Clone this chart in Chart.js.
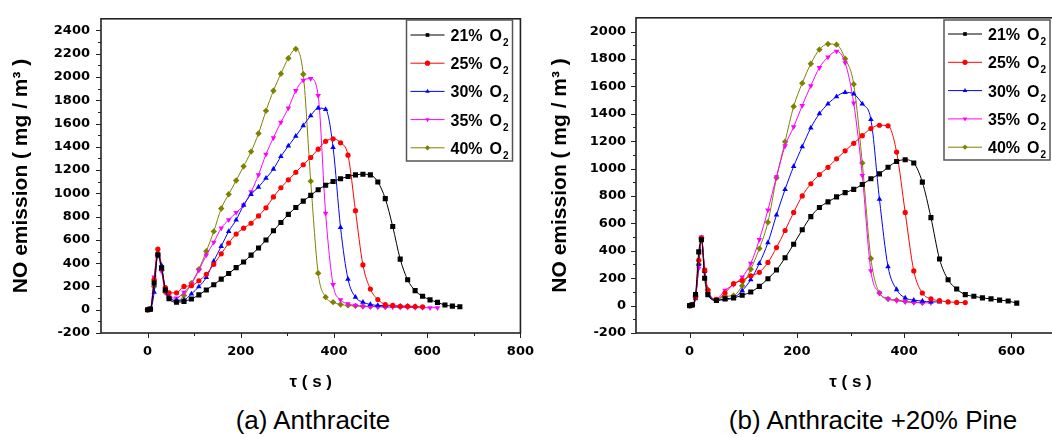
<!DOCTYPE html>
<html>
<head>
<meta charset="utf-8">
<script src="https://cdn.jsdelivr.net/npm/chart.js@4.4.0/dist/chart.umd.min.js"></script>
<style>
  html, body { margin: 0; padding: 0; background: #fff; width: 1052px; height: 437px; overflow: hidden; }
  .panel { position: absolute; top: 0; }
  .cap { position: absolute; top: 405px; font: 26px "Liberation Sans", Arial, sans-serif; color: #000;
         white-space: nowrap; transform: translateX(-50%); line-height: 30px; }
</style>
</head>
<body>
<canvas id="chartA" class="panel" style="left:0px" width="545" height="400"></canvas>
<canvas id="chartB" class="panel" style="left:540px" width="540" height="400"></canvas>
<div class="cap" style="left:313px">(a) Anthracite</div>
<div class="cap" style="left:873px">(b) Anthracite +20% Pine</div>
<script>
// ---- data ----
const o2Levels = ["21%", "25%", "30%", "35%", "40%"];

// tick labels
const xTicksA = [0, 200, 400, 600, 800];
const yTicksA = [-200, 0, 200, 400, 600, 800, 1000, 1200, 1400, 1600, 1800, 2000, 2200, 2400];
const xTicksB = [0, 200, 400, 600];
const yTicksB = [-200, 0, 200, 400, 600, 800, 1000, 1200, 1400, 1600, 1800, 2000];

// (a) Anthracite, time in s, NO in mg/m3
const timeA = [0, 6, 14, 22, 30, 38, 46, 62, 78, 94, 110, 126, 142, 158, 174, 190, 206, 222, 238, 254,
  270, 286, 302, 318, 334, 350, 366, 382, 398, 414, 430, 446, 462, 478, 494, 510, 526, 542, 558, 574,
  590, 606, 622, 638, 654, 670];
const a21 = [0, 5, 230, 470, 360, 170, 95, 65, 72, 92, 128, 170, 215, 263, 311, 362, 410, 469, 531, 599,
  678, 749, 819, 879, 933, 983, 1031, 1070, 1102, 1125, 1145, 1159, 1164, 1159, 1097, 955, 715, 435, 257, 164,
  116, 85, 63, 40, 31, 26];
const a25 = [0, 5, 260, 520, 360, 190, 145, 145, 200, 206, 249, 305, 390, 480, 573, 650, 701, 743, 806, 876,
  969, 1048, 1116, 1181, 1246, 1308, 1380, 1447, 1469, 1435, 1328, 851, 385, 178, 88, 45, 37, 30, 30, 27,
  25, null, null, null, null, null];
const a30 = [0, 3, 150, 490, 380, 180, 110, 80, 85, 136, 198, 277, 418, 545, 673, 772, 899, 992, 1054, 1130,
  1209, 1317, 1407, 1492, 1582, 1667, 1733, 1722, 1395, 707, 263, 108, 65, 45, 37, 35, 33, 30, 30, 28,
  null, null, null, null, null, null];
const a35 = [0, 5, 280, 480, 330, 150, 108, 100, 150, 221, 339, 469, 579, 701, 772, 834, 899, 1012, 1159, 1336,
  1478, 1611, 1732, 1882, 1972, 1986, 1840, 828, 215, 85, 51, 37, 30, 27, 25, 23, 22, 20, 20, 18,
  18, 17, 17, null, null, null];
const a40 = [0, 5, 200, 470, 340, 150, 108, 72, 122, 229, 348, 503, 673, 870, 992, 1110, 1232, 1359, 1514, 1709,
  1882, 2028, 2161, 2240, 2023, 1105, 314, 108, 65, 45, 37, 33, 30, 28, 27, 26, null, null, null, null,
  null, null, null, null, null, null];

// (b) Anthracite + 20% pine
const timeB = [0, 5, 11, 17, 22, 28, 34, 50, 66, 82, 98, 114, 130, 146, 162, 178, 194, 210, 226, 242,
  258, 274, 290, 306, 322, 338, 354, 370, 386, 402, 418, 434, 450, 466, 482, 498, 514, 530, 546, 562,
  578, 594, 610];
const b21 = [0, 5, 80, 392, 480, 200, 80, 37, 49, 56, 75, 99, 140, 196, 260, 349, 448, 553, 649, 716,
  757, 793, 824, 848, 884, 925, 961, 1009, 1052, 1064, 1040, 901, 642, 340, 189, 121, 80, 68, 56, 49,
  40, 33, 18];
const b25 = [0, 5, 60, 330, 490, 260, 110, 45, 92, 160, 184, 217, 243, 315, 423, 548, 680, 800, 889, 956,
  1009, 1071, 1129, 1184, 1240, 1292, 1316, 1312, 1120, 680, 253, 92, 49, 36, 27, 23, 22, null, null, null,
  null, null, null];
const b30 = [0, 5, 50, 300, 490, 250, 100, 40, 45, 56, 109, 189, 308, 459, 661, 848, 1016, 1160, 1297, 1400,
  1472, 1525, 1556, 1544, 1472, 1359, 776, 284, 117, 56, 40, 33, 27, 27, null, null, null, null, null, null,
  null, null, null];
const b35 = [0, 5, 70, 272, 500, 260, 110, 49, 112, 153, 207, 308, 481, 697, 940, 1165, 1304, 1460, 1604, 1736,
  1813, 1856, 1772, 1477, 949, 253, 92, 49, 36, 27, 22, 20, 20, null, null, null, null, null, null, null,
  null, null, null];
const b40 = [0, 5, 70, 301, 495, 250, 117, 40, 68, 73, 145, 265, 416, 608, 932, 1196, 1453, 1623, 1765, 1868,
  1909, 1904, 1801, 1616, 1040, 344, 92, 49, 40, 31, 25, 20, null, null, null, null, null, null, null, null,
  null, null, null];

// ---- styles ----
const colors = ["#000000", "#ff0000", "#0000ff", "#ff00ff", "#808000"];
const marks = [
  { pointStyle: "rect", radius: 3.6, rot: 0 },
  { pointStyle: "circle", radius: 2.6, rot: 0 },
  { pointStyle: "triangle", radius: 3.2, rot: 0 },
  { pointStyle: "triangle", radius: 3.2, rot: 180 },
  { pointStyle: "rectRot", radius: 3.2, rot: 0 },
];
const tickFont = { family: "'DejaVu Sans', sans-serif", size: 13, weight: "bold" };
const xTitleFont = { family: "'Liberation Sans', Arial, sans-serif", size: 17, weight: "bold" };
const yTitleFont = { family: "'Liberation Sans', Arial, sans-serif", size: 21, weight: "bold" };

function toPoints(times, vals) {
  return times.map((t, i) => ({ x: t, y: vals[i] })).filter(p => p.y !== null);
}

// outward major/minor ticks + box frame
const frameTicks = {
  id: "frameTicks",
  afterDraw(chart, args, o) {
    const { ctx, chartArea: a, scales: { x, y } } = chart;
    ctx.save();
    ctx.strokeStyle = "#222";
    ctx.lineWidth = 1;
    ctx.beginPath();
    for (let v = o.yFrom; v <= o.yTo; v += 100) {
      const py = Math.round(y.getPixelForValue(v)) + 0.5;
      const len = v % 200 === 0 ? 5 : 3;
      ctx.moveTo(a.left - len, py);
      ctx.lineTo(a.left, py);
    }
    for (let v = o.xFrom; v <= o.xTo; v += 100) {
      const px = Math.round(x.getPixelForValue(v)) + 0.5;
      const len = v % 200 === 0 ? 5 : 3;
      ctx.moveTo(px, a.bottom);
      ctx.lineTo(px, a.bottom + len);
    }
    ctx.stroke();
    ctx.lineWidth = 1.6;
    ctx.strokeRect(a.left, a.top, a.right - a.left, a.bottom - a.top);
    ctx.restore();
  }
};

// boxed legend with subscript 2
const boxLegend = {
  id: "boxLegend",
  afterDraw(chart, args, o) {
    const ctx = chart.ctx;
    ctx.save();
    ctx.strokeStyle = "#555";
    ctx.lineWidth = 1.5;
    ctx.strokeRect(o.x, o.y, o.w, o.h);
    chart.data.datasets.forEach((ds, i) => {
      const cy = o.y + o.first + i * o.gap;
      ctx.strokeStyle = ds.borderColor;
      ctx.lineWidth = 1;
      ctx.beginPath();
      ctx.moveTo(o.x + 4, cy);
      ctx.lineTo(o.x + 38, cy);
      ctx.stroke();
      ctx.fillStyle = ds.borderColor;
      Chart.helpers.drawPoint(ctx, { pointStyle: ds.pointStyle, rotation: ds.pointRotation, radius: 2.6, borderWidth: 0 }, o.x + 21, cy);
      ctx.fillStyle = "#000";
      ctx.textBaseline = "alphabetic";
      ctx.font = "bold 16px 'Liberation Sans', Arial, sans-serif";
      ctx.fillText(o2Levels[i], o.x + 44, cy + 6);
      const w = ctx.measureText(o2Levels[i]).width;
      ctx.fillText("O", o.x + 44 + w + 7, cy + 6);
      const wo = ctx.measureText("O").width;
      ctx.font = "bold 10px 'Liberation Sans', Arial, sans-serif";
      ctx.fillText("2", o.x + 44 + w + 7 + wo + 1, cy + 11);
    });
    ctx.restore();
  }
};

function makeChart(id, times, series, cfg) {
  const datasets = series.map((vals, i) => ({
    label: o2Levels[i] + " O2",
    data: toPoints(times, vals),
    borderColor: colors[i],
    backgroundColor: colors[i],
    pointBackgroundColor: colors[i],
    pointBorderWidth: 0,
    pointStyle: marks[i].pointStyle,
    pointRadius: marks[i].radius,
    pointRotation: marks[i].rot,
    borderWidth: 1,
    cubicInterpolationMode: "monotone",
    fill: false
  }));
  return new Chart(document.getElementById(id), {
    type: "line",
    data: { datasets },
    plugins: [frameTicks, boxLegend],
    options: {
      responsive: false,
      animation: false,
      layout: { padding: { top: 13, right: cfg.rightPad, bottom: 0, left: 0 } },
      plugins: {
        legend: { display: false },
        tooltip: { enabled: false },
        frameTicks: { xFrom: 0, xTo: cfg.xMax, yFrom: -200, yTo: cfg.yTicks[cfg.yTicks.length - 1] },
        boxLegend: cfg.legend
      },
      scales: {
        x: {
          type: "linear", min: -100, max: cfg.xMax,
          ticks: { padding: 11, font: tickFont, color: "#000", maxRotation: 0,
                   autoSkip: false, callback: v => String(v) },
          afterBuildTicks: s => { s.ticks = cfg.xTicks.map(v => ({ value: v })); },
          grid: { display: false, drawTicks: false },
          border: { display: false },
          title: { display: true, text: "τ ( s )", font: xTitleFont, color: "#000", padding: { top: 0, bottom: 7 } },
          afterFit: s => { s.height = 67; }
        },
        y: {
          type: "linear", min: -200, max: cfg.yMax,
          ticks: { padding: cfg.yPad, font: tickFont, color: "#000",
                   autoSkip: false, callback: v => String(v) },
          afterBuildTicks: s => { s.ticks = cfg.yTicks.map(v => ({ value: v })); },
          grid: { display: false, drawTicks: false },
          border: { display: false },
          title: { display: true, text: "NO emission ( mg / m³ )", font: yTitleFont, color: "#000",
                   padding: { top: cfg.yTitlePad, bottom: 0 } },
          afterFit: s => { s.width = cfg.yWidth; }
        }
      }
    }
  });
}

makeChart("chartA", timeA, [a21, a25, a30, a35, a40], {
  xMax: 800, yMax: 2500, xTicks: xTicksA, yTicks: yTicksA, rightPad: 15, yWidth: 101, yPad: 11, yTitlePad: 9,
  legend: { x: 406.5, y: 20, w: 106, h: 141, first: 15, gap: 28.2 }
});
makeChart("chartB", timeB, [b21, b25, b30, b35, b40], {
  xMax: 700, yMax: 2100, xTicks: xTicksB, yTicks: yTicksB, rightPad: 15, yWidth: 96, yPad: 10, yTitlePad: 8,
  legend: { x: 404, y: 20, w: 106, h: 140, first: 14, gap: 28.3 }
});
</script>
</body>
</html>
